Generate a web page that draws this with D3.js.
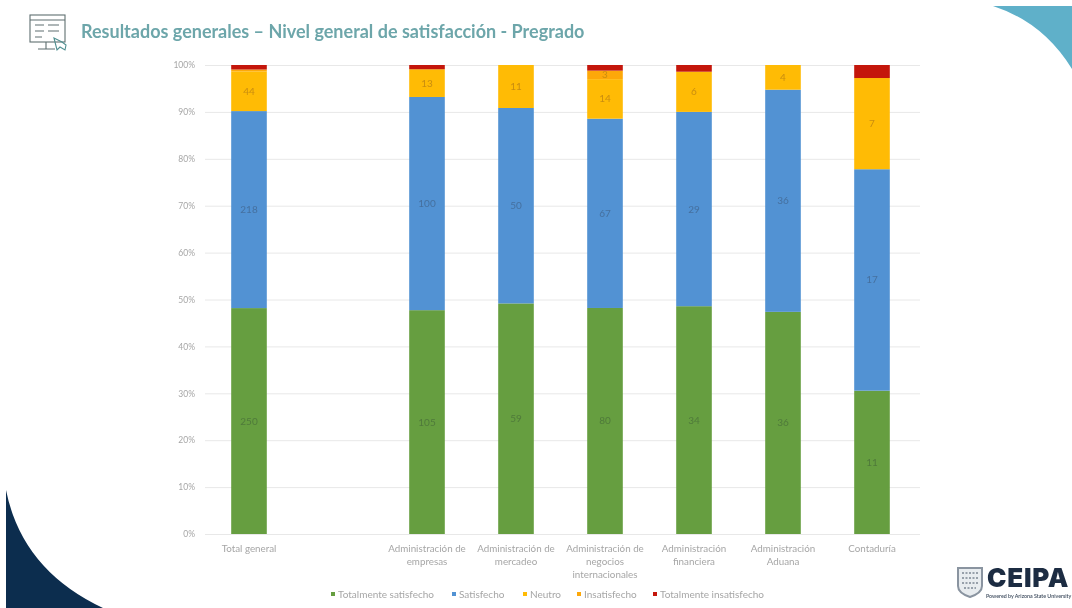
<!DOCTYPE html>
<html lang="es">
<head>
<meta charset="utf-8">
<title>Resultados generales</title>
<script src="https://cdn.jsdelivr.net/npm/d3@7/dist/d3.min.js"></script>
<style>
html,body{margin:0;padding:0;background:#fff;overflow:hidden}
svg{display:block;filter:blur(0.6px)}
text{font-family:Lato,"Open Sans",sans-serif}
.soft{filter:blur(0.7px)}
</style>
</head>
<body>
<svg id="chart" width="1072" height="608"></svg>
<script>
const titleText = "Resultados generales – Nivel general de satisfacción - Pregrado";
const categories = ["Total general", "", "Administración de|empresas", "Administración de|mercadeo", "Administración de|negocios|internacionales", "Administración|financiera", "Administración|Aduana", "Contaduría"];
const seriesNames = ["Totalmente satisfecho", "Satisfecho", "Neutro", "Insatisfecho", "Totalmente insatisfecho"];
const totalmenteSatisfecho = [250, 0, 105, 59, 80, 34, 36, 11];
const satisfecho = [218, 0, 100, 50, 67, 29, 36, 17];
const neutro = [44, 0, 13, 11, 14, 6, 4, 7];
const insatisfecho = [2, 0, 0, 0, 3, 0, 0, 0];
const totalmenteInsatisfecho = [5, 0, 2, 0, 2, 1, 0, 1];
const seriesColors = ["#669e40", "#5292d3", "#ffbb05", "#fda80a", "#c4160b"];
const yTicks = [0, .1, .2, .3, .4, .5, .6, .7, .8, .9, 1];
const legendX = [333, 454, 525, 579, 655];

const allSeries = [totalmenteSatisfecho, satisfecho, neutro, insatisfecho, totalmenteInsatisfecho];
const rows = categories.map((c, i) => {
  const r = {cat: c};
  seriesNames.forEach((s, k) => r[s] = allSeries[k][i]);
  return r;
});
const stacked = d3.stack().keys(seriesNames).offset(d3.stackOffsetExpand)(rows);

const svg = d3.select("#chart");

// slide decoration
svg.append("path").attr("fill", "#5fb0c9").attr("d", "M993,6 Q1043,22 1072,69 L1072,6 Z");
svg.append("path").attr("fill", "#0c2d4e").attr("d", "M6,490 Q22,570 103,608 L6,608 Z");

// title + icon
const icon = svg.append("g").attr("fill", "none").attr("stroke", "#5f6f70").attr("stroke-width", 1.1);
icon.append("rect").attr("x", 30).attr("y", 15).attr("width", 35).attr("height", 27);
icon.append("path").attr("d", "M30,20 H65 M46,42 V49 M38,49 H55 M35,25 H44 M35,31 H44 M35,37 H42 M48,25 H59 M48,31 H59");
icon.append("path").attr("stroke", "#4f8f90").attr("d", "M54,38 L57,50 L60,47 L65,50 L66,45 L62,42 Z");
svg.append("text").attr("x", 81).attr("y", 37.5).attr("font-size", 18).attr("font-weight", 700)
  .attr("fill", "#6da6aa").text(titleText);

// scales
const x = d3.scaleBand().domain(categories).range([204.5, 916.5]).paddingInner(0.6).paddingOuter(0.3);
const y = d3.scaleLinear().domain([0, 1]).range([534, 65]);

// axis + grid
const yAxis = svg.append("g").attr("transform", "translate(205,0)")
  .call(d3.axisLeft(y).tickValues(yTicks).tickFormat(d3.format(".0%")).tickSize(-715).tickPadding(10));
yAxis.select(".domain").remove();
yAxis.selectAll("line").attr("stroke", "#e8e8e8").attr("stroke-width", 1);
yAxis.selectAll("text").attr("class", "soft").attr("fill", "#a6a6a6").attr("font-size", 8.5).style("font-family", "Lato,sans-serif");

// bars
const layer = svg.selectAll("g.layer").data(stacked).join("g").attr("class", "layer")
  .attr("fill", (d, i) => seriesColors[i]);
layer.selectAll("rect").data(d => d.filter(p => p[1] > p[0])).join("rect")
  .attr("x", d => x(d.data.cat))
  .attr("width", x.bandwidth())
  .attr("y", d => y(d[1]))
  .attr("height", d => y(d[0]) - y(d[1]));

// value labels
const labelColors = ["#4f7a3a", "#45709f", "#c98d10", "#c98d10"];
stacked.slice(0, 4).forEach((s, k) => {
  svg.append("g").attr("class", "soft").selectAll("text").data(s.filter(p => p[1] - p[0] > 0.012)).join("text")
    .attr("x", d => x(d.data.cat) + x.bandwidth() / 2)
    .attr("y", d => y((d[0] + d[1]) / 2) + 3.5)
    .attr("text-anchor", "middle").attr("font-size", 10).attr("fill", labelColors[k])
    .text(d => d.data[s.key]);
});

// category labels
const catG = svg.append("g").attr("class", "soft").selectAll("g").data(categories.filter(c => c)).join("g")
  .attr("transform", c => `translate(${x(c) + x.bandwidth() / 2},0)`);
catG.selectAll("text").data(c => c.split("|")).join("text")
  .attr("y", (d, i) => 552 + i * 13)
  .attr("text-anchor", "middle").attr("font-size", 9.8).attr("fill", "#a6a6a6")
  .text(d => d);

// legend
const leg = svg.append("g").attr("class", "soft").selectAll("g").data(seriesNames).join("g")
  .attr("transform", (d, i) => `translate(${legendX[i]},594)`);
leg.append("rect").attr("x", -2).attr("y", -2).attr("width", 4).attr("height", 4)
  .attr("fill", (d, i) => seriesColors[i]);
leg.append("text").attr("x", 5).attr("y", 3.5).attr("font-size", 10).attr("fill", "#a6a6a6").text(d => d);

// logo
const logo = svg.append("g");
logo.append("path").attr("fill", "#e8ecef").attr("stroke", "#8a94a0").attr("stroke-width", 2)
  .attr("d", "M958,568 H982 V586 Q982,593 970,597 Q958,593 958,586 Z");
logo.append("path").attr("fill", "none").attr("stroke", "#7c8794").attr("stroke-width", 1.5)
  .attr("stroke-dasharray", "2 1.5").attr("d", "M962,573 H978 M962,578 H978 M962,583 H978 M964,588 H976");
logo.append("text").attr("x", 987).attr("y", 587).attr("font-size", 26).attr("font-weight", 900)
  .attr("letter-spacing", 0.8).style("font-family", "Inter,sans-serif").attr("fill", "#1c2c42").text("CEIPA");
logo.append("text").attr("x", 986).attr("y", 598).attr("font-size", 5.3).attr("font-weight", 600)
  .attr("fill", "#3c4a5c").text("Powered by Arizona State University");
</script>
</body>
</html>
